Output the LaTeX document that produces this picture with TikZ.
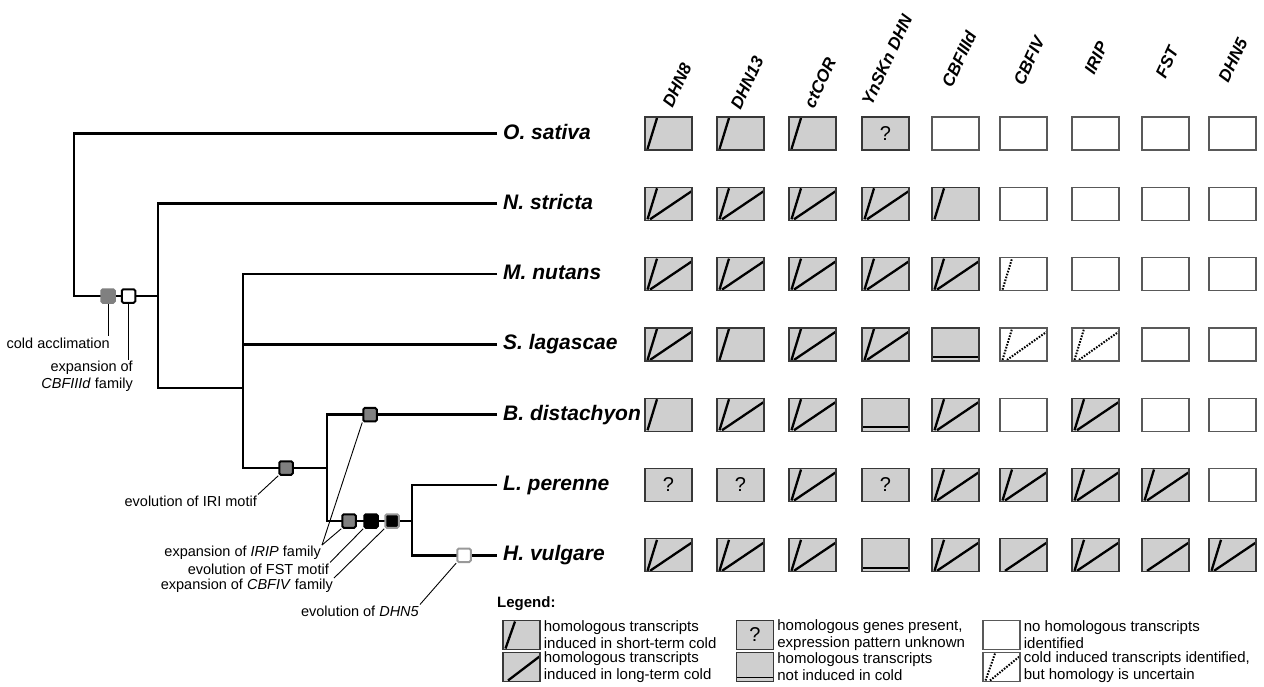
\documentclass[tikz,border=0pt]{standalone}
\usepackage{fontspec}
\setmainfont{Liberation Sans}
\usetikzlibrary{positioning}

\definecolor{cellfill}{gray}{0.81}
\definecolor{markfill}{gray}{0.5}
\definecolor{markrim}{gray}{0.6}

\tikzset{
  branch/.style={line width=2.7pt},
  pointer/.style={line width=0.9pt},
  event/.style={rectangle, rounded corners=1.5pt, minimum size=13.5pt,
    inner sep=0pt, line width=2pt},
  taxon/.style={anchor=west, inner sep=0pt, text height=15pt, text depth=4pt,
    font=\fontsize{21}{25}\selectfont\bfseries\itshape},
  gene/.style={rotate=65, inner sep=0pt,
    font=\fontsize{17}{20}\selectfont\bfseries\itshape},
  note/.style={inner sep=1pt, font=\fontsize{14.5}{17}\selectfont},
  keytext/.style={inner sep=0pt, align=left, font=\fontsize{15}{17}\selectfont},
  cell/.style={rectangle, minimum width=47pt, minimum height=33pt,
    inner sep=0pt, line width=1.3pt, draw=black!78, fill=cellfill},
  keybox/.style={minimum width=37pt, minimum height=29pt},
  tick/.style={draw=black, line width=2.3pt},
  dottick/.style={draw=black, line width=2pt, dash pattern=on 1.6pt off 1.4pt},
  shortpic/.style={path picture={
    \draw[tick]
      ([xshift=2.5pt,yshift=1pt]path picture bounding box.south west)
      -- ([xshift=12pt,yshift=-1pt]path picture bounding box.north west);}},
  longpic/.style={path picture={
    \draw[tick]
      ([xshift=5pt,yshift=1pt]path picture bounding box.south west)
      -- ([xshift=-0.5pt,yshift=-4pt]path picture bounding box.north east);}},
  bothpic/.style={path picture={
    \draw[tick]
      ([xshift=2.5pt,yshift=1pt]path picture bounding box.south west)
      -- ([xshift=12pt,yshift=-1pt]path picture bounding box.north west);
    \draw[tick]
      ([xshift=5pt,yshift=1pt]path picture bounding box.south west)
      -- ([xshift=-0.5pt,yshift=-4pt]path picture bounding box.north east);}},
  askpic/.style={path picture={
    \node[font=\fontsize{20}{20}\selectfont] at (path picture bounding box.center) {?};}},
  flatpic/.style={path picture={
    \draw[draw=black, line width=1.8pt]
      ([yshift=4pt]path picture bounding box.south west)
      -- ([yshift=4pt]path picture bounding box.south east);}},
  dotonepic/.style={path picture={
    \draw[dottick]
      ([xshift=2.5pt,yshift=1pt]path picture bounding box.south west)
      -- ([xshift=12pt,yshift=-1pt]path picture bounding box.north west);}},
  dottwopic/.style={path picture={
    \draw[dottick]
      ([xshift=2.5pt,yshift=1pt]path picture bounding box.south west)
      -- ([xshift=12pt,yshift=-1pt]path picture bounding box.north west);
    \draw[dottick]
      ([xshift=7pt,yshift=1pt]path picture bounding box.south west)
      -- ([xshift=-0.5pt,yshift=-4pt]path picture bounding box.north east);}},
  cshort/.style={cell, shortpic},
  clong/.style={cell, longpic},
  cboth/.style={cell, bothpic},
  cask/.style={cell, askpic},
  cflat/.style={cell, flatpic},
  cempty/.style={cell, fill=white, draw=black!65},
  cdotone/.style={cell, fill=white, draw=black!65, dotonepic},
  cdottwo/.style={cell, fill=white, draw=black!65, dottwopic}
}

\begin{document}
\begin{tikzpicture}[x=1pt, y=-1pt]
\useasboundingbox (0,0) rectangle (1264,686);

\node[taxon] (osat) at (503,133.5) {O. sativa};
\node[taxon] (nstr) at (503,203.8) {N. stricta};
\node[taxon] (mnut) at (503,274.1) {M. nutans};
\node[taxon] (slag) at (503,344.4) {S. lagascae};
\node[taxon] (bdis) at (503,414.7) {B. distachyon};
\node[taxon] (lper) at (503,485) {L. perenne};
\node[taxon] (hvul) at (503,555.3) {H. vulgare};

\coordinate (n1) at (74,296);
\coordinate (n2) at (158,388);
\coordinate (n3) at (243,468);
\coordinate (n4) at (327,521);
\coordinate (n5) at (412,555.3);

\draw[branch]
  ([xshift=-6pt]osat.west) -| (n1) -- (n1 -| n2);
\draw[branch]
  ([xshift=-6pt]nstr.west) -| (n2) -- (n2 -| n3);
\draw[branch]
  ([xshift=-6pt]mnut.west) -| (n3) -- (n3 -| n4);
\draw[branch]
  ([xshift=-6pt]slag.west) -- (slag.west -| n3);
\draw[branch]
  ([xshift=-6pt]bdis.west) -| (n4) -- (n4 -| n5);
\draw[branch]
  ([xshift=-6pt]lper.west) -| (n5) -- ([xshift=-6pt]hvul.west);

\node[event, fill=markfill, draw=markfill] (cold) at (108,296) {};
\node[event, fill=white, draw=black] (cbf3) at (128.5,296) {};
\node[event, fill=markfill, draw=black] (iri) at (286,468) {};
\node[event, fill=markfill, draw=black] (iripa) at (370,414.7) {};
\node[event, fill=markfill, draw=black] (iripb) at (349,521) {};
\node[event, fill=black, draw=black] (fst) at (371,521) {};
\node[event, fill=black, draw=markrim] (cbf4) at (392,521) {};
\node[event, fill=white, draw=markrim] (dhn5) at (464,555.3) {};

\node[note, anchor=east] (tcold) at (111,343) {cold acclimation};
\node[note, anchor=north east, align=right] (tcbf3) at (134,360)
  {expansion of\\\textit{CBFIIId} family};
\node[note, anchor=east] (tiri) at (258,501) {evolution of IRI motif};
\node[note, anchor=east] (tirip) at (322,553) {expansion of \textit{IRIP} family};
\node[note, anchor=east] (tfst) at (330,569) {evolution of FST motif};
\node[note, anchor=east] (tcbf4) at (334,586) {expansion of \textit{CBFIV} family};
\node[note, anchor=east] (tdhn5) at (420,611) {evolution of \textit{DHN5}};

\draw[pointer] (cold.south) -- (cold.south |- tcold.north);
\draw[pointer] (cbf3.south) -- (cbf3.south |- tcbf3.north);
\draw[pointer] (iri.south west) -- (tiri.north east);
\draw[pointer] (iripa.south west) -- (tirip.north east);
\draw[pointer] (iripb.south west) -- (tirip.north east);
\draw[pointer] (fst.south west) -- (tfst.north east);
\draw[pointer] (cbf4.south west) -- (tcbf4.north east);
\draw[pointer] (dhn5.south west) -- (tdhn5.north east);

\node[gene] (hdhn8) at (677,85) {DHN8};
\node[gene] (hdhn13) at (747,83) {DHN13};
\node[gene] (hctcor) at (820,83) {ctCOR};
\node[gene] (hynskn) at (887,60) {YnSKn DHN};
\node[gene] (hcbf3) at (959,59) {CBFIIId};
\node[gene] (hcbf4) at (1029,61) {CBFIV};
\node[gene] (hirip) at (1096,58) {IRIP};
\node[gene] (hfst) at (1167,62) {FST};
\node[gene] (hdhn5) at (1233,60) {DHN5};

\foreach \x [count=\i] in {668.5,740.5,812.5,885.5,955.5,1023.5,1095.5,1165.5,1232.5}
  \coordinate (col\i) at (\x,0);

\foreach \kind [count=\i] in {cshort,cshort,cshort,cask,cempty,cempty,cempty,cempty,cempty}
  \node[\kind] (osat\i) at (col\i |- osat.west) {};
\foreach \kind [count=\i] in {cboth,cboth,cboth,cboth,cshort,cempty,cempty,cempty,cempty}
  \node[\kind] (nstr\i) at (col\i |- nstr.west) {};
\foreach \kind [count=\i] in {cboth,cboth,cboth,cboth,cboth,cdotone,cempty,cempty,cempty}
  \node[\kind] (mnut\i) at (col\i |- mnut.west) {};
\foreach \kind [count=\i] in {cboth,cshort,cboth,cboth,cflat,cdottwo,cdottwo,cempty,cempty}
  \node[\kind] (slag\i) at (col\i |- slag.west) {};
\foreach \kind [count=\i] in {cshort,cboth,cboth,cflat,cboth,cempty,cboth,cempty,cempty}
  \node[\kind] (bdis\i) at (col\i |- bdis.west) {};
\foreach \kind [count=\i] in {cask,cask,cboth,cask,cboth,cboth,cboth,cboth,cempty}
  \node[\kind] (lper\i) at (col\i |- lper.west) {};
\foreach \kind [count=\i] in {cboth,cboth,cboth,cflat,cboth,clong,cboth,clong,cboth}
  \node[\kind] (hvul\i) at (col\i |- hvul.west) {};

\node[anchor=west, inner sep=0pt, font=\fontsize{15}{18}\selectfont\bfseries]
  (legend) at (497,604) {Legend:};

\node[cshort, keybox] (key1) at (521.5,635) {};
\node[clong, keybox] (key2) at (521.5,667) {};
\node[cask, keybox] (key3) at (755,635) {};
\node[cflat, keybox] (key4) at (755,667) {};
\node[cempty, keybox] (key5) at (1001.5,635) {};
\node[cdottwo, keybox] (key6) at (1001.5,667) {};

\node[keytext, right=3pt of key1] (text1)
  {homologous transcripts\\induced in short-term cold};
\node[keytext, right=3pt of key2] (text2)
  {homologous transcripts\\induced in long-term cold};
\node[keytext, right=3pt of key3] (text3)
  {homologous genes present,\\expression pattern unknown};
\node[keytext, right=3pt of key4] (text4)
  {homologous transcripts\\not induced in cold};
\node[keytext, right=3pt of key5] (text5)
  {no homologous transcripts\\identified};
\node[keytext, right=3pt of key6] (text6)
  {cold induced transcripts identified,\\but homology is uncertain};

\end{tikzpicture}
\end{document}
